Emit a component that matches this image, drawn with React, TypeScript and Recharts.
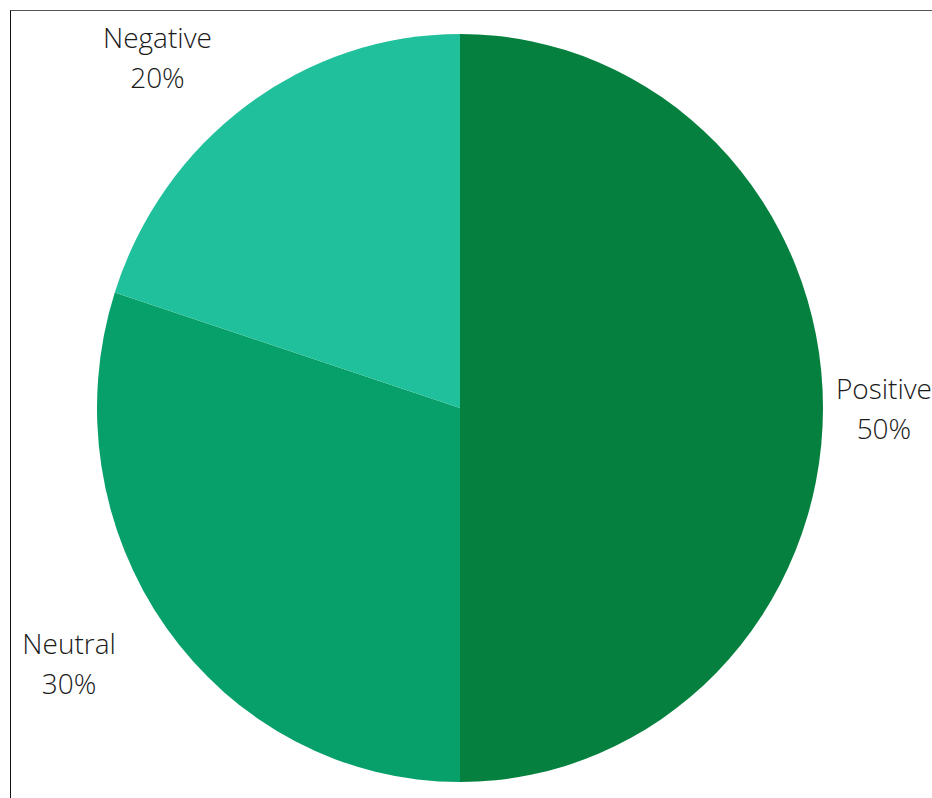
import { PieChart, Pie, Cell } from 'recharts'

const sentiments = ['Positive', 'Neutral', 'Negative']
const shares = [50, 30, 20]
const sliceColors = ['#06803E', '#08A06A', '#21C09C']

const data = sentiments.map((name, i) => ({ name, value: shares[i] }))

const CHART_W = 921
const CHART_H = 787
const CX = 449
const CY = 397
const RADIUS = 374
// the reference pie is a bit narrower than it is tall
const X_SQUEEZE = 363 / 374
const LABEL_FONT = "300 28px 'Open Sans'"

let canvasCtx: CanvasRenderingContext2D | null = null
const measure = (text: string) => {
    if (!canvasCtx) {
        const c = document.createElement('canvas')
        canvasCtx = c.getContext('2d')
    }
    if (!canvasCtx) return text.length * 13
    canvasCtx.font = LABEL_FONT
    return canvasCtx.measureText(text).width
}

const RADIAN = Math.PI / 180

const renderLabel = (props: any) => {
    const { cx, cy, midAngle, outerRadius, name, percent } = props
    const pct = `${Math.round(percent * 100)}%`
    const w = Math.max(measure(name), measure(pct))
    const dx = Math.cos(-midAngle * RADIAN)
    const dy = Math.sin(-midAngle * RADIAN)
    const dist = outerRadius + 60
    const px = cx + dist * dx
    const py = cy + dist * dy

    let x: number
    if (dx < -0.01) {
        x = px + 7 - w / 2
    } else if (dx > 0.01) {
        x = Math.min(px - 7 + w / 2, CHART_W - w / 2)
    } else {
        x = px
    }

    return (
        <text
            x={x}
            y={py}
            fill="#1a1a1a"
            textAnchor="middle"
            style={{ font: LABEL_FONT }}
        >
            <tspan x={x} y={py - 20} dominantBaseline="central">{name}</tspan>
            <tspan x={x} y={py + 20} dominantBaseline="central">{pct}</tspan>
        </text>
    )
}

export default function App() {
    return (
        <div
            style={{
                position: 'absolute',
                left: 10,
                top: 10,
                width: CHART_W,
                height: CHART_H,
                borderTop: '1px solid #555',
                borderLeft: '1px solid #111',
                background: '#fff',
                fontFamily: "'Open Sans', sans-serif"
            }}
        >
            <PieChart
                width={CHART_W}
                height={CHART_H}
                margin={{ top: 0, right: 0, bottom: 0, left: 0 }}
            >
                <Pie
                    data={data}
                    dataKey="value"
                    nameKey="name"
                    cx={CX}
                    cy={CY}
                    outerRadius={RADIUS}
                    startAngle={90}
                    endAngle={-270}
                    stroke="none"
                    label={renderLabel}
                    labelLine={false}
                    isAnimationActive={false}
                >
                    {data.map((d, i) => (
                        <Cell
                            key={d.name}
                            fill={sliceColors[i]}
                            style={{
                                transform: `scaleX(${X_SQUEEZE})`,
                                transformOrigin: `${CX}px ${CY}px`
                            }}
                        />
                    ))}
                </Pie>
            </PieChart>
        </div>
    )
}
